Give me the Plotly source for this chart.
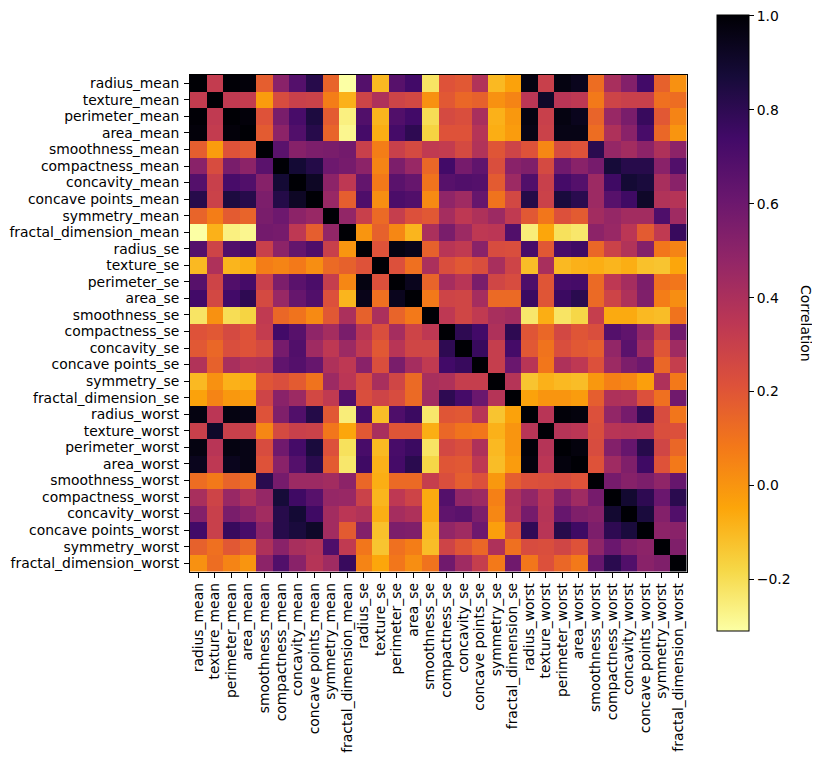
import plotly.graph_objects as go

labels = ["radius_mean","texture_mean","perimeter_mean","area_mean","smoothness_mean","compactness_mean","concavity_mean","concave points_mean","symmetry_mean","fractal_dimension_mean","radius_se","texture_se","perimeter_se","area_se","smoothness_se","compactness_se","concavity_se","concave points_se","symmetry_se","fractal_dimension_se","radius_worst","texture_worst","perimeter_worst","area_worst","smoothness_worst","compactness_worst","concavity_worst","concave points_worst","symmetry_worst","fractal_dimension_worst"]

corr = [
[1,.32,.998,.987,.17,.51,.68,.82,.15,-.31,.68,-.10,.67,.74,-.22,.21,.19,.38,-.10,-.04,.97,.30,.97,.94,.12,.41,.53,.74,.16,.01],
[.32,1,.33,.32,-.02,.24,.30,.29,.07,-.08,.28,.39,.28,.26,.01,.19,.14,.16,.01,.05,.35,.91,.36,.34,.08,.28,.30,.30,.11,.12],
[.998,.33,1,.987,.21,.56,.72,.85,.18,-.26,.69,-.09,.69,.74,-.20,.25,.23,.41,-.08,-.01,.97,.30,.97,.94,.15,.46,.56,.77,.19,.05],
[.987,.32,.987,1,.18,.50,.69,.82,.15,-.28,.73,-.07,.73,.80,-.17,.21,.21,.37,-.07,-.02,.96,.29,.96,.96,.12,.39,.51,.72,.14,.00],
[.17,-.02,.21,.18,1,.66,.52,.55,.56,.58,.30,.07,.30,.25,.33,.32,.25,.38,.20,.28,.21,.04,.24,.21,.81,.47,.43,.50,.39,.50],
[.51,.24,.56,.50,.66,1,.88,.83,.60,.57,.50,.05,.55,.46,.14,.74,.57,.64,.23,.51,.54,.25,.59,.51,.57,.87,.82,.82,.51,.69],
[.68,.30,.72,.69,.52,.88,1,.92,.50,.34,.63,.08,.66,.62,.10,.67,.69,.68,.18,.45,.69,.30,.73,.68,.45,.75,.88,.86,.41,.51],
[.82,.29,.85,.82,.55,.83,.92,1,.46,.17,.70,.02,.71,.69,.03,.49,.44,.62,.10,.26,.83,.29,.86,.81,.45,.67,.75,.91,.38,.37],
[.15,.07,.18,.15,.56,.60,.50,.46,1,.48,.30,.13,.31,.22,.19,.42,.34,.39,.45,.33,.19,.09,.22,.18,.43,.47,.43,.43,.70,.44],
[-.31,-.08,-.26,-.28,.58,.57,.34,.17,.48,1,.00,.16,.04,-.09,.40,.56,.45,.34,.35,.69,-.25,-.05,-.21,-.23,.50,.46,.35,.18,.33,.77],
[.68,.28,.69,.73,.30,.50,.63,.70,.30,.00,1,.21,.97,.95,.16,.36,.33,.51,.24,.23,.72,.19,.72,.75,.14,.29,.38,.53,.09,.05],
[-.10,.39,-.09,-.07,.07,.05,.08,.02,.13,.16,.21,1,.22,.11,.40,.23,.19,.23,.41,.28,-.11,.41,-.10,-.08,-.07,-.09,-.07,-.12,-.13,-.05],
[.67,.28,.69,.73,.30,.55,.66,.71,.31,.04,.97,.22,1,.94,.15,.42,.36,.56,.27,.24,.70,.20,.72,.73,.13,.34,.42,.55,.11,.09],
[.74,.26,.74,.80,.25,.46,.62,.69,.22,-.09,.95,.11,.94,1,.08,.28,.27,.42,.13,.13,.76,.20,.76,.81,.13,.28,.39,.54,.07,.02],
[-.22,.01,-.20,-.17,.33,.14,.10,.03,.19,.40,.16,.40,.15,.08,1,.34,.27,.33,.41,.43,-.23,-.07,-.22,-.18,.31,-.06,-.06,-.10,-.11,.10],
[.21,.19,.25,.21,.32,.74,.67,.49,.42,.56,.36,.23,.42,.28,.34,1,.80,.74,.39,.80,.20,.14,.26,.20,.23,.68,.64,.48,.28,.59],
[.19,.14,.23,.21,.25,.57,.69,.44,.34,.45,.33,.19,.36,.27,.27,.80,1,.77,.31,.73,.19,.10,.23,.19,.17,.48,.66,.44,.20,.44],
[.38,.16,.41,.37,.38,.64,.68,.62,.39,.34,.51,.23,.56,.42,.33,.74,.77,1,.31,.61,.36,.09,.39,.34,.22,.45,.55,.60,.14,.31],
[-.10,.01,-.08,-.07,.20,.23,.18,.10,.45,.35,.24,.41,.27,.13,.41,.39,.31,.31,1,.37,-.13,-.08,-.10,-.11,-.01,.06,.04,-.03,.39,.08],
[-.04,.05,-.01,-.02,.28,.51,.45,.26,.33,.69,.23,.28,.24,.13,.43,.80,.73,.61,.37,1,-.04,-.00,-.00,-.02,.17,.39,.38,.22,.11,.59],
[.97,.35,.97,.96,.21,.54,.69,.83,.19,-.25,.72,-.11,.70,.76,-.23,.20,.19,.36,-.13,-.04,1,.36,.99,.98,.22,.48,.57,.79,.24,.09],
[.30,.91,.30,.29,.04,.25,.30,.29,.09,-.05,.19,.41,.20,.20,-.07,.14,.10,.09,-.08,-.00,.36,1,.37,.35,.23,.36,.37,.36,.23,.22],
[.97,.36,.97,.96,.24,.59,.73,.86,.22,-.21,.72,-.10,.72,.76,-.22,.26,.23,.39,-.10,-.00,.99,.37,1,.98,.24,.53,.62,.82,.27,.14],
[.94,.34,.94,.96,.21,.51,.68,.81,.18,-.23,.75,-.08,.73,.81,-.18,.20,.19,.34,-.11,-.02,.98,.35,.98,1,.21,.44,.54,.75,.21,.08],
[.12,.08,.15,.12,.81,.57,.45,.45,.43,.50,.14,-.07,.13,.13,.31,.23,.17,.22,-.01,.17,.22,.23,.24,.21,1,.57,.52,.55,.49,.62],
[.41,.28,.46,.39,.47,.87,.75,.67,.47,.46,.29,-.09,.34,.28,-.06,.68,.48,.45,.06,.39,.48,.36,.53,.44,.57,1,.89,.80,.61,.81],
[.53,.30,.56,.51,.43,.82,.88,.75,.43,.35,.38,-.07,.42,.39,-.06,.64,.66,.55,.04,.38,.57,.37,.62,.54,.52,.89,1,.86,.53,.69],
[.74,.30,.77,.72,.50,.82,.86,.91,.43,.18,.53,-.12,.55,.54,-.10,.48,.44,.60,-.03,.22,.79,.36,.82,.75,.55,.80,.86,1,.50,.51],
[.16,.11,.19,.14,.39,.51,.41,.38,.70,.33,.09,-.13,.11,.07,-.11,.28,.20,.14,.39,.11,.24,.23,.27,.21,.49,.61,.53,.50,1,.54],
[.01,.12,.05,.00,.50,.69,.51,.37,.44,.77,.05,-.05,.09,.02,.10,.59,.44,.31,.08,.59,.09,.22,.14,.08,.62,.81,.69,.51,.54,1],
]

inferno_r = ["#fcffa4","#f6d746","#fca50a","#f37819","#dd513a","#bc3754","#932667","#6a176e","#420a68","#160b39","#000004"]
scale = [[i / 10, c] for i, c in enumerate(inferno_r)]

W, H = 820, 761
OFF = 8  # page body margin
FONT = dict(family="DejaVu Sans", size=13.9, color="black")

fig = go.Figure(go.Heatmap(
    z=corr, x=labels, y=labels, colorscale=scale, zmin=-0.31, zmax=1.002,
    colorbar=dict(
        tickvals=[-0.2, 0, 0.2, 0.4, 0.6, 0.8, 1.0],
        ticktext=["\u22120.2", "0.0", "0.2", "0.4", "0.6", "0.8", "1.0"],
        tickfont=FONT, ticks="outside", ticklen=5, tickwidth=1, tickcolor="black",
        ticklabeloverflow="allow",
        outlinecolor="black", outlinewidth=1,
        thickness=32, thicknessmode="pixels",
        len=616 / H, lenmode="fraction",
        x=(717 - OFF) / W, xanchor="left", xpad=0,
        y=(H - 631 + OFF) / H, yanchor="bottom", ypad=0,
    ),
))
axis = dict(
    tickfont=FONT, ticks="outside", ticklen=5, tickwidth=1, tickcolor="black",
    showline=True, linecolor="black", linewidth=1, mirror=True,
    showgrid=False, zeroline=False, automargin=False, tickmode="array",
    tickvals=labels, ticktext=labels,
)
fig.update_layout(
    width=W, height=H, autosize=False,
    margin=dict(l=0, r=0, t=0, b=0),
    paper_bgcolor="white", plot_bgcolor="white",
    xaxis=dict(axis, domain=[(190 - OFF) / W, (686.5 - OFF) / W], tickangle=-90),
    yaxis=dict(axis, domain=[(H - 571.5 + OFF) / H, (H - 75 + OFF) / H], autorange="reversed", ticklabelstandoff=2),
    annotations=[dict(
        text="Correlation", textangle=90, font=FONT, showarrow=False,
        xref="paper", yref="paper",
        x=(806 - OFF) / W, y=(H - 323 + OFF) / H, xanchor="center", yanchor="middle",
    )],
)
fig.write_html("out.html")
